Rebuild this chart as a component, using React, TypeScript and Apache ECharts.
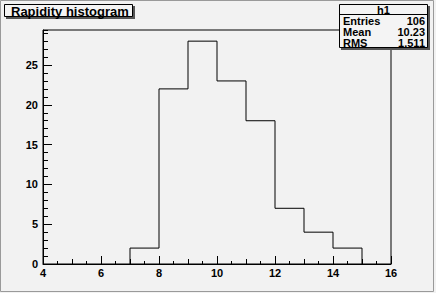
import React, { useEffect, useRef } from "react";
import * as echarts from "echarts";

const binLowEdges = [7, 8, 9, 10, 11, 12, 13, 14];
const binWidth = 1;
const counts = [2, 22, 28, 23, 18, 7, 4, 2];
const xMin = 4;
const xMax = 16;
const yMax = 29.4;
const titleText = "Rapidity histogram";
const statsName = "h1";
const statsLabels = ["Entries", "Mean", "RMS"];
const statsValues = ["106", "10.23", "1.511"];

export default function App() {
  const ref = useRef<HTMLDivElement>(null);
  useEffect(() => {
    document.body.style.margin = "0";
    const chart = echarts.init(ref.current!, null, { renderer: "svg" });
    const pts: number[][] = [[binLowEdges[0], 0]];
    binLowEdges.forEach((x, i) => pts.push([x, counts[i]]));
    pts.push([binLowEdges[binLowEdges.length - 1] + binWidth, 0]);

    const font = "'Liberation Sans', Arial, sans-serif";
    const baseX = {
      type: "value",
      min: xMin,
      max: xMax,
      gridIndex: 0,
      position: "bottom",
      axisLine: { show: false },
      splitLine: { show: false },
    };
    const baseY = {
      type: "value",
      min: 0,
      max: yMax,
      gridIndex: 0,
      position: "left",
      axisLine: { show: false },
      splitLine: { show: false },
    };
    const statsGraphics: any[] = [];
    statsLabels.forEach((l, i) => {
      statsGraphics.push({
        type: "text",
        x: 343,
        y: 20.5 + i * 11,
        z: 12,
        style: { text: l, font: `bold 11px ${font}`, fill: "#000", align: "left", verticalAlign: "middle" },
      });
      statsGraphics.push({
        type: "text",
        x: 425,
        y: 20.5 + i * 11,
        z: 12,
        style: { text: statsValues[i], font: `bold 11px ${font}`, fill: "#000", align: "right", verticalAlign: "middle" },
      });
    });

    chart.setOption({
      animation: false,
      backgroundColor: "#f2f2f2",
      grid: {
        left: 43,
        right: 45,
        top: 30,
        bottom: 29,
        show: true,
        borderColor: "#000",
        borderWidth: 1,
        backgroundColor: "transparent",
      },
      xAxis: [
        {
          ...baseX,
          interval: 2,
          axisLine: { show: true, lineStyle: { color: "#000", width: 1 } },
          axisTick: { show: true, inside: true, length: 8, lineStyle: { color: "#000" } },
          axisLabel: {
            show: true,
            color: "#000",
            fontFamily: font,
            fontWeight: "bold",
            fontSize: 11,
            margin: 3,
          },
        },
        {
          ...baseX,
          interval: 1,
          axisTick: { show: true, inside: true, length: 5, lineStyle: { color: "#000" } },
          axisLabel: { show: false },
        },
        {
          ...baseX,
          interval: 0.5,
          axisTick: { show: true, inside: true, length: 3, lineStyle: { color: "#000" } },
          axisLabel: { show: false },
        },
      ],
      yAxis: [
        {
          ...baseY,
          interval: 5,
          axisLine: { show: true, lineStyle: { color: "#000", width: 1 } },
          axisTick: { show: true, inside: true, length: 9, lineStyle: { color: "#000" } },
          axisLabel: {
            show: true,
            color: "#000",
            fontFamily: font,
            fontWeight: "bold",
            fontSize: 11,
            margin: 5,
            showMaxLabel: false,
            formatter: (v: number) => (Math.abs(v % 5) < 1e-9 ? String(v) : ""),
          },
        },
        {
          ...baseY,
          interval: 1,
          axisTick: { show: true, inside: true, length: 5, lineStyle: { color: "#000" } },
          axisLabel: { show: false },
        },
      ],
      series: [
        {
          type: "line",
          xAxisIndex: 0,
          yAxisIndex: 0,
          step: "end",
          data: pts,
          showSymbol: false,
          symbol: "none",
          lineStyle: { color: "#000", width: 1 },
          z: 5,
        },
      ],
      graphic: [
        {
          type: "rect",
          shape: { x: 0.5, y: 0.5, width: 433, height: 291 },
          style: { fill: "none", stroke: "#9a9a9a", lineWidth: 1 },
          silent: true,
        },
        {
          type: "rect",
          shape: { x: 6, y: 6, width: 129, height: 13 },
          style: { fill: "#555", stroke: "none" },
          z: 10,
        },
        {
          type: "rect",
          shape: { x: 4.5, y: 4.5, width: 128, height: 12 },
          style: { fill: "#f4f4f4", stroke: "#000", lineWidth: 1 },
          z: 11,
        },
        {
          type: "text",
          x: 11,
          y: 11,
          z: 12,
          style: { text: titleText, font: `bold 13px ${font}`, fill: "#000", align: "left", verticalAlign: "middle" },
        },
        {
          type: "rect",
          shape: { x: 341, y: 6, width: 89, height: 44 },
          style: { fill: "#555", stroke: "none" },
          z: 10,
        },
        {
          type: "rect",
          shape: { x: 339.5, y: 4.5, width: 88, height: 43 },
          style: { fill: "#f4f4f4", stroke: "#000", lineWidth: 1 },
          z: 11,
        },
        {
          type: "line",
          shape: { x1: 339.5, y1: 14.5, x2: 427.5, y2: 14.5 },
          style: { stroke: "#000", lineWidth: 1 },
          z: 12,
        },
        {
          type: "text",
          x: 383.5,
          y: 9.5,
          z: 12,
          style: { text: statsName, font: `bold 11px ${font}`, fill: "#000", align: "center", verticalAlign: "middle" },
        },
        ...statsGraphics,
      ],
    });
    return () => chart.dispose();
  }, []);
  return <div ref={ref} style={{ position: "fixed", left: 0, top: 0, width: 436, height: 293 }} />;
}
